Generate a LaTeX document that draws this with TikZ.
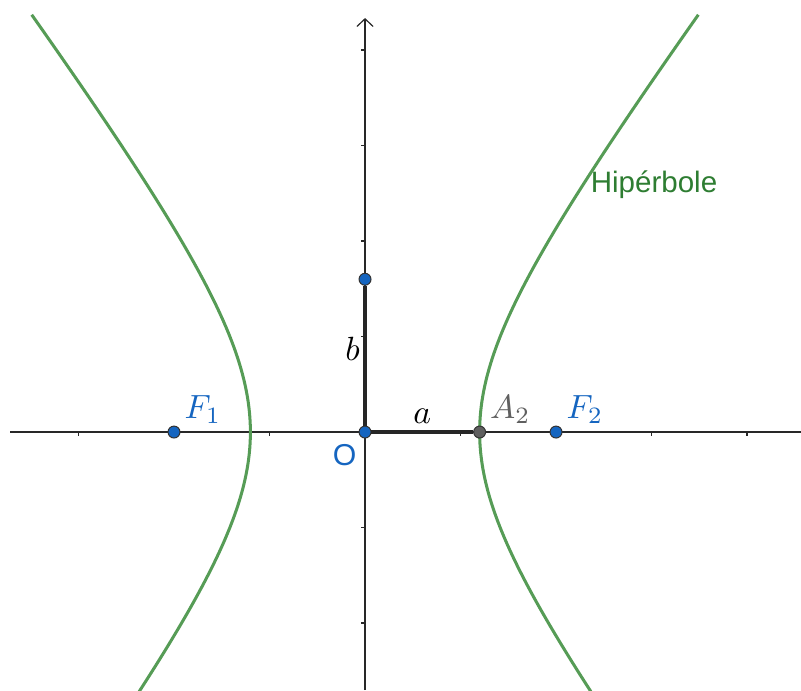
\documentclass[tikz,border=0pt]{standalone}
\usepackage{amsmath}
\usepackage{fontspec}
\setsansfont{Liberation Sans}
\usepackage{tikz}
\usetikzlibrary{arrows.meta, positioning}
\definecolor{blue3}{RGB}{21,101,192}
\definecolor{gray3}{RGB}{95,95,95}
\definecolor{green3}{RGB}{86,156,86}
\definecolor{green4}{RGB}{46,125,50}
\definecolor{axis1}{RGB}{40,40,40}

\begin{document}
\begin{tikzpicture}[
  node distance=0cm and 0.02cm,
  axis/.style={draw=axis1, line width=0.35pt},
  tick/.style={draw=axis1, line width=0.35pt},
  seg/.style={draw=black!85, line width=1.1pt},
  curve/.style={draw=green3, line width=0.9pt},
  pt/.style={circle, draw=black!80, line width=0.3pt, fill=blue3,
             inner sep=0pt, minimum size=0.125cm},
  ptgray/.style={pt, fill=gray3},
  lbl/.style={font=\fontsize{10}{12}\selectfont, inner sep=1pt},
  sflbl/.style={font=\sffamily\fontsize{9}{11}\selectfont, inner sep=1pt},
]
\useasboundingbox (-3.822,-2.702) rectangle (4.565,4.524);

\coordinate (xl) at (-3.717,0);
\coordinate (xr) at (4.565,0);
\coordinate (yb) at (0,-2.702);
\coordinate (yt) at (0,4.335);
\draw[axis] (xl) -- (xr);
\draw[axis, -{Straight Barb[length=0.8mm, width=1.7mm]}] (yb) -- (yt);
\foreach \i in {-3,-2,-1,1,2,3,4}
  \draw[tick] (\i,0) -- (\i,-0.045);
\foreach \j in {-2,-1,1,2,3,4}
  \draw[tick] (0,\j) -- (-0.045,\j);

\draw[curve] plot[domain=-1.30:1.73, samples=90, variable=\t]
  ({1.2*cosh(\t)},{1.6*sinh(\t)});
\draw[curve] plot[domain=-1.30:1.73, samples=90, variable=\t]
  ({-1.2*cosh(\t)},{1.6*sinh(\t)});

\node[pt]     (O)  at (0,0)    {};
\node[ptgray] (A2) at (1.2,0)  {};
\node[pt]     (F1) at (-2,0)   {};
\node[pt]     (F2) at (2,0)    {};
\node[pt]     (B)  at (0,1.6)  {};

\draw[seg] (O) -- node[lbl, above=0.03cm]{$a$} (A2);
\draw[seg] (O) -- node[lbl, left, pos=0.55]{$b$} (B);

\node[lbl, text=blue3, above right=of F1] (F1lbl) {$F_1$};
\node[lbl, text=blue3, above right=of F2] (F2lbl) {$F_2$};
\node[lbl, text=gray3, above right=of A2] (A2lbl) {$A_2$};
\node[sflbl, text=blue3, below left=0.04cm and 0cm of O] (Olbl) {O};
\node[font=\sffamily\fontsize{8.8}{10}\selectfont, text=green4]
  (hyp) at (3.026,2.586) {Hipérbole};

\end{tikzpicture}
\end{document}
